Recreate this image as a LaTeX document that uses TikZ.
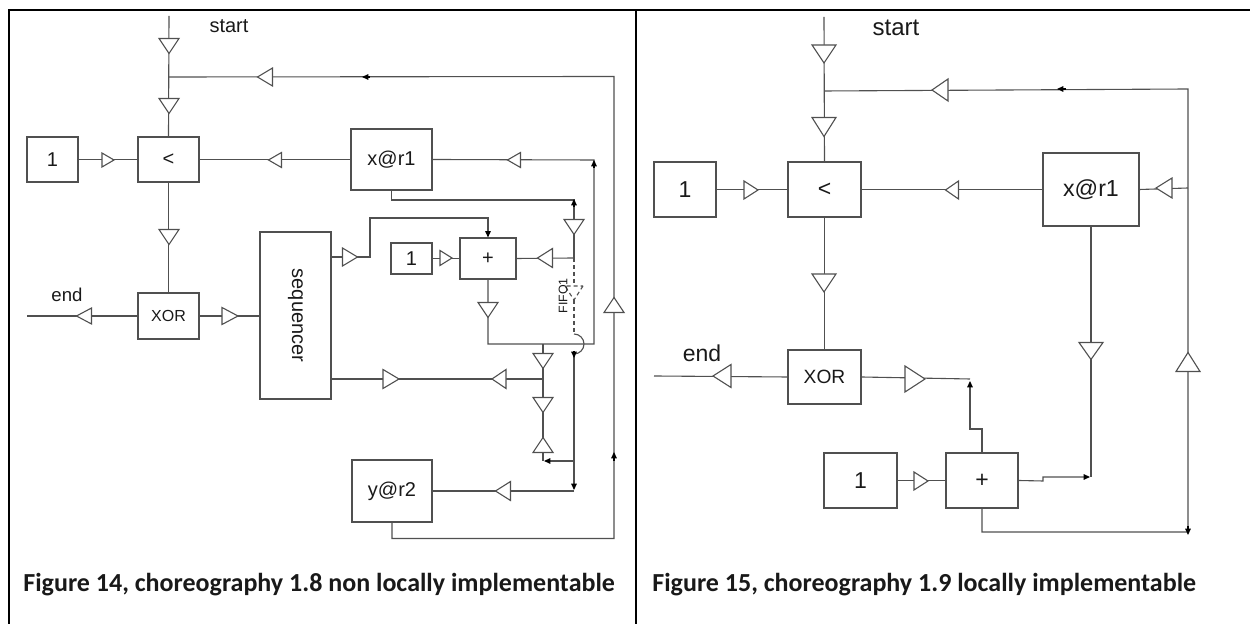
\documentclass[tikz,border=0pt]{standalone}
\usepackage{fontspec}
\setmainfont{Liberation Sans}
\newfontfamily\capfont{Carlito}
\usetikzlibrary{arrows.meta,fit}
\definecolor{lg}{HTML}{505050}
\newcommand\myfs[1]{\fontsize{#1}{#1}\selectfont}
\begin{document}
\begin{tikzpicture}[x=0.5pt,y=-0.5pt,
  ln/.style={draw=lg, line width=0.55pt},
  box/.style={draw=lg, line width=0.55pt, inner sep=0pt},
  lbl/.style={inner sep=0pt, text=black!90},
  trist/.style={draw=lg, fill=white, line width=0.55pt, line join=miter},
  tip/.style={-{Triangle[length=3.2pt,width=2.8pt,color=black]}},
  arr/.style={draw=black, line width=0.55pt, -{Triangle[length=3.2pt,width=2.8pt]}},
  pics/tri/.style 2 args={code={\draw[trist] (-#2/2,-#1/2) -- (#2/2,0) -- (-#2/2,#1/2) -- cycle;}},
  pics/trid/.style 2 args={code={\draw[trist,dashed,dash pattern=on 2pt off 1.5pt] (-#2/2,-#1/2) -- (#2/2,0) -- (-#2/2,#1/2) -- cycle;}},
  border/.style={draw=black, line width=1pt}
]
\useasboundingbox (0,0) rectangle (1250,624);

% table borders
\draw[border] (9,624) -- (9,10) -- (1250,10);
\draw[black, line width=0.7pt] (636,10) -- (636,624);

% ================= left panel =================
\node[box,fit={(138,137)(199,182)},label={[lbl,font=\myfs{10}]center:<}] (ltA) {};
\node[box,fit={(27,137)(78,182)},label={[lbl,font=\myfs{10}]center:1}] (oneA) {};
\node[box,fit={(351,129)(432,190)},label={[lbl,font=\myfs{10}]center:x@r1}] (xA) {};
\node[box,fit={(138,293)(199,339)},label={[lbl,font=\myfs{8}]center:XOR}] (xorA) {};
\node[box,fit={(260,232)(331,399)}] (seqA) {};
\node[lbl,rotate=-90,font=\myfs{10}] (seqT) at (seqA.center) {sequencer};
\node[box,fit={(460,238)(516,279)},label={[lbl,font=\myfs{10}]center:+}] (plusA) {};
\node[box,fit={(391,243)(432,274)},label={[lbl,font=\myfs{10}]center:1}] (oneB) {};
\node[box,fit={(352,460)(432,522)},label={[lbl,font=\myfs{10}]center:y@r2}] (yA) {};

\coordinate (sA) at (169,16);
\coordinate (JA1) at (169,77);
\coordinate (eA) at (27,316);
\coordinate (JA2) at (574,258);
\coordinate (h257) at (0,257);
\coordinate (h379) at (0,379);

\draw[ln] (sA) -- (ltA.north);
\draw[ln] (oneA) -- (ltA);
\draw[ln] (ltA) -- (xA);
\draw[ln] (ltA) -- (xorA);
\draw[ln] (eA) -- (xorA.west);
\draw[ln] (xorA.east) -- (xorA.east -| seqA.west);
\draw[ln] (yA.south) -- ++(0,16) -| (614,76.5) -- (JA1);
\draw[ln] (plusA.south) |- (594,344) -- (594,160) -- (xA.east);
\draw[ln] (xA.south) |- (574,200) -- (JA2);
\draw[ln] (JA2) -- (plusA.east);
\draw[ln] (oneB) -- (plusA);
\draw[ln,tip] (seqA.east |- h257) -- (370,257) |- (488,218) -- (plusA.north);
\draw[ln,dashed,dash pattern=on 2pt off 1.5pt] (JA2) -- (574,334);
\draw[ln] (574,334) arc[start angle=-90, end angle=90, radius=10];
\draw[ln,tip] (574,354) -- (574,490);
\draw[ln] (574,491) -- (yA.east);
\draw[ln,tip] (574,461) -- (544,461);
\draw[ln] (543,461) -- (543,344);
\draw[ln] (543,379) -- (seqA.east |- h379);

% small filled arrow heads on lines
\draw[arr] (370,77) -- (362,77);
\draw[arr] (614,461) -- (614,452);
\draw[arr] (594,168) -- (594,160);
\draw[arr] (574,207) -- (574,199);
\draw[arr] (574,351) -- (574,358);

% triangles
\pic[rotate=-90] at (169,46) {tri={20}{15}};
\pic[rotate=-90] at (169,106) {tri={20}{15}};
\pic at (108,160) {tri={14}{12}};
\pic[rotate=180] at (275,160) {tri={15}{13}};
\pic[rotate=-90] at (169,237) {tri={20}{15}};
\pic[rotate=180] at (84,316) {tri={16}{15}};
\pic at (230,316) {tri={17}{16}};
\pic[rotate=180] at (265,77) {tri={18}{15}};
\pic[rotate=90] at (614,305) {tri={20}{15}};
\pic[rotate=180] at (514,160) {tri={15}{13}};
\pic at (446,258) {tri={15}{12}};
\pic at (350,257) {tri={18}{15}};
\pic[rotate=-90] at (574,227) {tri={20}{15}};
\pic[rotate=180] at (545,258) {tri={19}{15}};
\pic[rotate=-90] at (574,293) {trid={18}{14}};
\pic[rotate=-90] at (488,310) {tri={20}{15}};
\pic[rotate=-90] at (543,361) {tri={20}{15}};
\pic[rotate=180] at (499,379) {tri={19}{14}};
\pic at (391,379) {tri={19}{16}};
\pic[rotate=-90] at (543,405) {tri={20}{15}};
\pic[rotate=90] at (543,445) {tri={20}{15}};
\pic[rotate=180] at (503,491) {tri={19}{15}};

\node[lbl,font=\myfs{10}] (startA) at (229,26) {start};
\node[lbl,font=\myfs{9.3}] (endA) at (67,295) {end};
\node[lbl,rotate=90,font=\myfs{6.2}] (fifo) at (563,296) {FIFO1};

% ================= right panel =================
\node[box,fit={(788,162)(861,217)},label={[lbl,font=\myfs{11.5}]center:<}] (ltB) {};
\node[box,fit={(654,162)(716,217)},label={[lbl,font=\myfs{11.5}]center:1}] (oneC) {};
\node[box,fit={(1043,153)(1139,226)},label={[lbl,font=\myfs{11.6}]center:x@r1}] (xB) {};
\node[box,fit={(788,350)(861,404)},label={[lbl,font=\myfs{9.6}]center:XOR}] (xorB) {};
\node[box,fit={(824,453)(897,508)},label={[lbl,font=\myfs{11.5}]center:1}] (oneD) {};
\node[box,fit={(946,453)(1018,508)},label={[lbl,font=\myfs{11.5}]center:+}] (plusB) {};

\coordinate (sB) at (824,17);
\coordinate (JB1) at (824,91);
\coordinate (eB) at (654,376);

\draw[ln] (sB) -- (ltB.north);
\draw[ln] (ltB) -- (xorB);
\draw[ln] (oneC) -- (ltB);
\draw[ln] (ltB) -- (xB);
\draw[ln] (xB.east) -- (1188,188);
\draw[ln] (plusB.south) |- (1188,532) -- (1188,89) -- (JB1);
\draw[ln] (eB) -- (xorB.west);
\draw[ln] (xorB.east) -- (970,379);
\draw[ln,tip] (plusB.north) |- (970,429) -- (970,381);
\draw[ln] (oneD) -- (plusB);
\draw[ln,tip] (plusB.east) -- (1043,481) -- (1043,477) -- (1090,477);
\draw[ln] (xB.south) -- (1091,477);

\draw[arr] (1188,526) -- (1188,535);
\draw[arr] (1066,89) -- (1057,89);

\pic[rotate=-90] at (824,54) {tri={24}{18}};
\pic[rotate=-90] at (824,127) {tri={24}{19}};
\pic at (751,190) {tri={18}{14}};
\pic[rotate=180] at (952,190) {tri={18}{13}};
\pic[rotate=180] at (1164,188) {tri={20}{16}};
\pic[rotate=180] at (940,90) {tri={22}{16}};
\pic[rotate=90] at (1188,362) {tri={24}{19}};
\pic[rotate=-90] at (824,283) {tri={24}{18}};
\pic[rotate=180] at (722,376) {tri={23}{18}};
\pic at (915,379) {tri={26}{20}};
\pic at (921,481) {tri={18}{14}};
\pic[rotate=-90] at (1091,351) {tri={24}{17}};

\node[lbl,font=\myfs{12}] (startB) at (896,28) {start};
\node[lbl,font=\myfs{11.5}] (endB) at (702,353) {end};

% captions
\node[lbl,anchor=west,font=\capfont\bfseries\myfs{13}] (cap1) at (23,585) {Figure 14, choreography 1.8 non locally implementable};
\node[lbl,anchor=west,font=\capfont\bfseries\myfs{13}] (cap2) at (652,585) {Figure 15, choreography 1.9 locally implementable};
\end{tikzpicture}
\end{document}
